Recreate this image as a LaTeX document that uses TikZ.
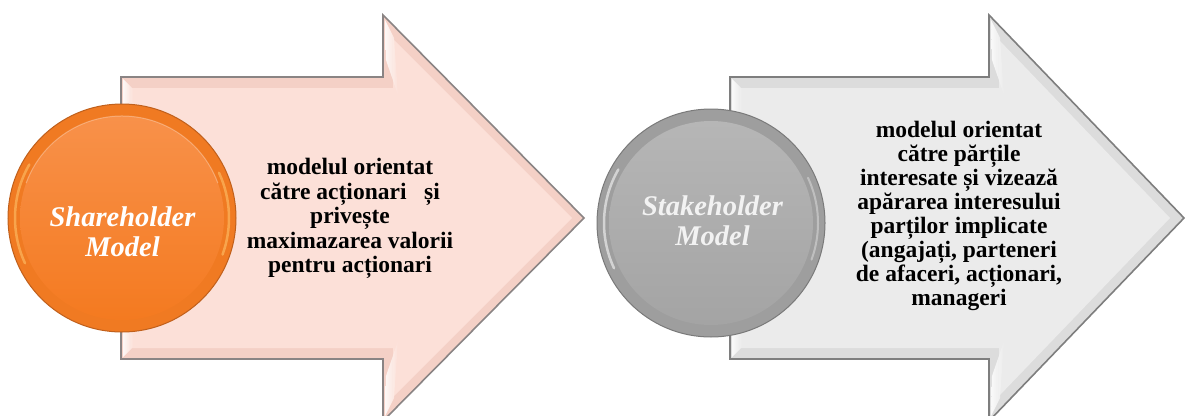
\documentclass[tikz,border=0pt]{standalone}
\usepackage{fontspec}
\setmainfont{Liberation Serif}[BoldFont={Liberation Serif Bold}, ItalicFont={Liberation Serif Italic}, BoldItalicFont={Liberation Serif Bold Italic}]
\newfontfamily\tnrbf{Liberation Serif Bold}
\newfontfamily\tnrbi{Liberation Serif Bold Italic}
\definecolor{peach}{HTML}{FCE0D8}
\definecolor{peachbev}{HTML}{F4D0C6}
\definecolor{peachline}{HTML}{8A8484}
\definecolor{lgray}{HTML}{EBEBEB}
\definecolor{lgraybev}{HTML}{DCDCDC}
\definecolor{lgrayline}{HTML}{7E7E7E}
\definecolor{orRim}{HTML}{F07A22}
\definecolor{orEdge}{HTML}{C0601C}
\definecolor{orTop}{HTML}{F8914A}
\definecolor{orBot}{HTML}{F47A20}
\definecolor{orGlow}{HTML}{FFC870}
\definecolor{gRim}{HTML}{9E9E9E}
\definecolor{gEdge}{HTML}{7A7A7A}
\definecolor{gTop}{HTML}{B6B6B6}
\definecolor{gBot}{HTML}{A4A4A4}
\begin{document}
\begin{tikzpicture}[x=1pt,y=-1pt,
  arrowtext/.style={align=center, font=\tnrbf\fontsize{23.5}{24.5}\selectfont, text=black, inner sep=0pt},
  arrowtextb/.style={align=center, font=\tnrbf\fontsize{23.5}{24}\selectfont, text=black, inner sep=0pt},
  circtext/.style={align=center, font=\tnrbi\fontsize{28.5}{30}\selectfont, text=white, inner sep=0pt},
  gleam/.style={opacity=0.85}]
\useasboundingbox (0,0) rectangle (1185,415);
\clip (0,0) rectangle (1185,415);

% ---------- left arrow ----------
\path[fill=peachbev, draw=peachline, line width=1.6pt, line join=miter]
  (121,77) -- (383,77) -- (383,15) -- (584,218) -- (383,421) -- (383,359) -- (121,359) -- cycle;
\fill[peach] (131,88) -- (393,88) -- (393,39) -- (572,218) -- (393,397) -- (393,348) -- (131,348) -- cycle;
\shade[left color=white, right color=peach, gleam] (123,79) -- (133,89) -- (133,347) -- (123,357) -- cycle;
\shade[left color=white, right color=peach, gleam] (385,20) -- (394,38) -- (398,95) -- (386,60) -- cycle;
\shade[left color=white, right color=peach, gleam] (385,416) -- (394,398) -- (398,341) -- (386,376) -- cycle;

% ---------- right arrow ----------
\path[fill=lgraybev, draw=lgrayline, line width=1.6pt, line join=miter]
  (730,77) -- (989,77) -- (989,15) -- (1184,218) -- (989,421) -- (989,359) -- (730,359) -- cycle;
\fill[lgray] (740,88) -- (999,88) -- (999,40) -- (1170,218) -- (999,396) -- (999,348) -- (740,348) -- cycle;
\shade[left color=white, right color=lgray, gleam] (732,79) -- (742,89) -- (742,347) -- (732,357) -- cycle;
\shade[left color=white, right color=lgray, gleam] (991,20) -- (1000,38) -- (1004,95) -- (992,60) -- cycle;
\shade[left color=white, right color=lgray, gleam] (991,416) -- (1000,398) -- (1004,341) -- (992,376) -- cycle;

% ---------- left circle ----------
\path[fill=orRim, draw=orEdge, line width=1pt] (122,218) circle[radius=114];
\shade[top color=orTop, bottom color=orBot] (122,218) circle[radius=102];
\draw[orGlow, line width=2.5pt, opacity=0.55, line cap=round] (122,218) ++(155:107) arc[start angle=155, end angle=210, radius=107];
\draw[orGlow, line width=2.5pt, opacity=0.55, line cap=round] (122,218) ++(-25:107) arc[start angle=-25, end angle=20, radius=107];
\draw[white, line width=1pt, opacity=0.3] (122,218) ++(200:102) arc[start angle=200, end angle=340, radius=102];

% ---------- right circle ----------
\path[fill=gRim, draw=gEdge, line width=1pt] (711,223) circle[radius=114];
\shade[top color=gTop, bottom color=gBot] (711,223) circle[radius=102];
\draw[white, line width=2.5pt, opacity=0.55, line cap=round] (711,223) ++(155:107) arc[start angle=155, end angle=210, radius=107];
\draw[white, line width=2pt, opacity=0.35, line cap=round] (711,223) ++(-25:107) arc[start angle=-25, end angle=20, radius=107];

% ---------- texts ----------
\node[circtext] (share) at (122.5,232) {Shareholder\\Model};
\node[circtext, text=white!95!black] (stake) at (712.5,220.5) {Stakeholder\\Model};
\node[arrowtext] (ltext) at (350,218.5) {modelul orientat\\către acționari \ \ și\\privește\\maximazarea valorii\\pentru acționari};
\node[arrowtextb] (rtext) at (959,215.5) {modelul orientat\\către părțile\\interesate și vizează\\apărarea interesului\\parților implicate\\(angajați, parteneri\\de afaceri, acționari,\\manageri};
\end{tikzpicture}
\end{document}
